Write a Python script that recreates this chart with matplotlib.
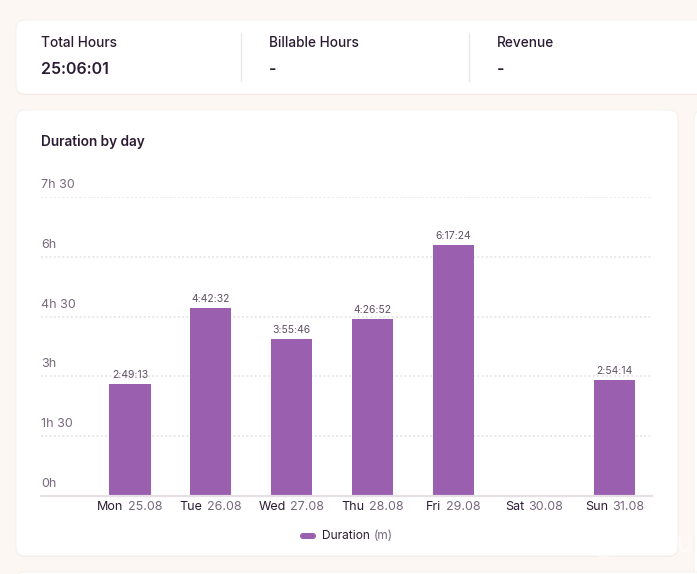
import matplotlib
matplotlib.use("Agg")
import matplotlib.pyplot as plt
from matplotlib.patches import FancyBboxPatch
from matplotlib.offsetbox import TextArea, HPacker, AnnotationBbox

# ---------------- data ----------------
days = ["Mon", "Tue", "Wed", "Thu", "Fri", "Sat", "Sun"]
dates = ["25.08", "26.08", "27.08", "28.08", "29.08", "30.08", "31.08"]
duration_seconds = [10153, 16952, 14146, 16012, 22644, 0, 10454]
y_ticks = [0, 90, 180, 270, 360, 450]
y_tick_labels = ["0h", "1h 30", "3h", "4h 30", "6h", "7h 30"]
stat_titles = ["Total Hours", "Billable Hours", "Revenue"]
stat_values = ["25:06:01", "-", "-"]
series_name = "Duration"
series_unit = "(m)"

duration_min = [s / 60 for s in duration_seconds]


def fmt(s):
    return f"{s // 3600}:{(s % 3600) // 60:02d}:{s % 60:02d}"


value_labels = [fmt(s) if s > 0 else "" for s in duration_seconds]

# ---------------- style ----------------
plt.rcParams['font.family'] = ['Inter', 'DejaVu Sans']
BG = "#fdf7f4"
CARD = "#ffffff"
DARK = "#2b1b33"
MUTED = "#76687b"
BAR = "#9b5fb0"
GRID = "#e6e1e6"

W, H = 697, 574
fig = plt.figure(figsize=(W / 100, H / 100), dpi=100)
fig.patch.set_facecolor(BG)

bg = fig.add_axes([0, 0, 1, 1])
bg.set_xlim(0, W)
bg.set_ylim(H, 0)
bg.axis("off")


def card(x0, y0, x1, y1, r=9, z=0):
    sh = FancyBboxPatch((x0, y0 + 1), x1 - x0, y1 - y0,
                        boxstyle=f"round,pad=0,rounding_size={r}",
                        fc="#f3ebe7", ec="none", zorder=z)
    bg.add_patch(sh)
    p = FancyBboxPatch((x0, y0), x1 - x0, y1 - y0,
                       boxstyle=f"round,pad=0,rounding_size={r}",
                       fc=CARD, ec="#f4eeeb", lw=0.6, zorder=z + 0.1)
    bg.add_patch(p)


card(16, 20, 720, 94)
card(16, 110, 678, 556)
card(694, 110, 760, 600)
card(16, 572, 720, 640)

for i, (t, v) in enumerate(zip(stat_titles, stat_values)):
    x = 41 + 228 * i
    bg.text(x, 43, t, fontsize=9.8, color=DARK, fontweight="medium",
            va="center", ha="left", zorder=2)
    bg.text(x, 69, v, fontsize=11.5, color=DARK, fontweight="semibold",
            va="center", ha="left", zorder=2)
    if i > 0:
        bg.plot([x - 28, x - 28], [33, 81], color="#ebe6ea", lw=0.9, zorder=2)

bg.text(41, 142, "Duration by day", fontsize=9.8, color=DARK,
        fontweight="semibold", va="center", ha="left", zorder=2)

bg.text(693, 545, "©ixogram.ru", fontsize=19, color="white", alpha=0.55,
        ha="right", va="center", zorder=3)

# ---------------- chart ----------------
ax_left, ax_right, ax_top, ax_bottom = 41, 652, 197, 496
ax = fig.add_axes([ax_left / W, 1 - ax_bottom / H,
                   (ax_right - ax_left) / W, (ax_bottom - ax_top) / H])
ax.set_facecolor("none")
x = list(range(len(days)))
ax.bar(x, duration_min, width=0.51, color=BAR, zorder=3)
ax.set_xlim(-1.10, 6.46)
ax.set_ylim(0, 450)
for s in ["top", "right", "left"]:
    ax.spines[s].set_visible(False)
ax.spines["bottom"].set_color("#e6e0e6")
ax.spines["bottom"].set_linewidth(1.6)
ax.spines["bottom"].set_zorder(4)
ax.set_xticks([])
ax.set_yticks([])

for v, lab in zip(y_ticks, y_tick_labels):
    if v > 0:
        ax.axhline(v, color=GRID, lw=1.1, linestyle=(0, (1.3, 1.5)), zorder=1)
    ax.annotate(lab, xy=(0, v), xycoords=("axes fraction", "data"),
                xytext=(0, 8.6), textcoords="offset points",
                fontsize=9, color=MUTED, ha="left", va="center")

for xi, yv, lab in zip(x, duration_min, value_labels):
    if lab:
        ax.annotate(lab, xy=(xi, yv), xytext=(0, 6.5), textcoords="offset points",
                    fontsize=7.5, color="#5f5065", ha="center", va="center")

for xi, d, dt in zip(x, days, dates):
    box = HPacker(children=[
        TextArea(d, textprops=dict(fontsize=9, color=DARK)),
        TextArea(dt, textprops=dict(fontsize=9, color=MUTED)),
    ], pad=0, sep=3.2, align="baseline")
    ab = AnnotationBbox(box, (xi, 0), xybox=(0, -8.2), xycoords="data",
                        boxcoords="offset points", frameon=False,
                        box_alignment=(0.5, 0.5), annotation_clip=False)
    ax.add_artist(ab)

pill = FancyBboxPatch((300, 533), 16, 6, boxstyle="round,pad=0,rounding_size=3",
                      fc=BAR, ec="none", zorder=3)
bg.add_patch(pill)
leg = HPacker(children=[
    TextArea(series_name, textprops=dict(fontsize=8.6, color=DARK)),
    TextArea(series_unit, textprops=dict(fontsize=8.6, color=MUTED)),
], pad=0, sep=2.6, align="baseline")
bg.add_artist(AnnotationBbox(leg, (322, 536), xycoords="data", frameon=False,
                             box_alignment=(0, 0.5), annotation_clip=False))

fig.savefig("out.png", dpi=100, facecolor=BG)
